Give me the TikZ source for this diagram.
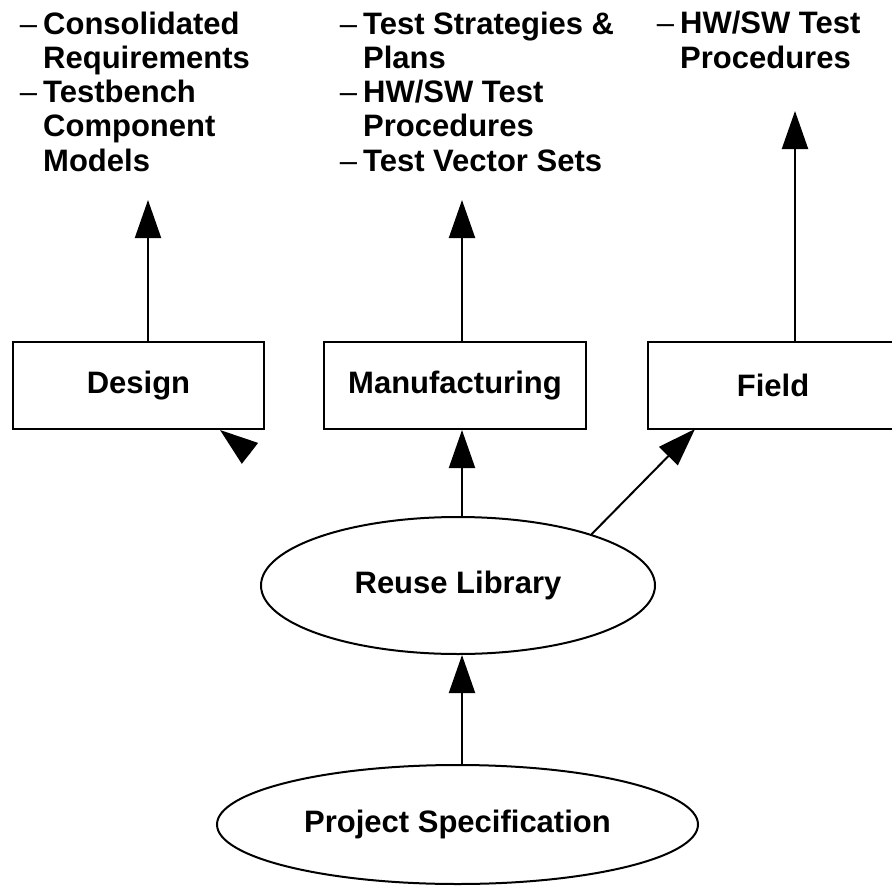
\documentclass[tikz,border=0pt]{standalone}
\usepackage{fontspec}
\setmainfont{Liberation Sans}
\usetikzlibrary{positioning, shapes.geometric, arrows.meta}

\begin{document}
\begin{tikzpicture}[x=1pt, y=-1pt,
	font=\fontsize{31}{34.2}\selectfont\bfseries,
	box/.style={draw, line width=2pt, minimum height=87pt, inner sep=0pt},
	blob/.style={draw, ellipse, line width=2pt, inner sep=0pt},
	items/.style={align=left, inner sep=0pt, anchor=base west},
	arr/.style={line width=2pt, -{Triangle[length=38pt, width=26pt]}}]
	\useasboundingbox (0,0) rectangle (892,886);
	\newcommand{\bul}{\llap{\textmd{\textendash}\hspace{6pt}}}
	% what each stage gets (placed by the last line)
	\node[items] (designout) at (43,171) {\bul Consolidated\\Requirements\\\bul Testbench\\Component\\Models};
	\node[items] (mfgout) at (363,171) {\bul Test Strategies \&\\Plans\\\bul HW/SW Test\\Procedures\\\bul Test Vector Sets};
	\node[items] (fieldout) at (680,68) {\bul HW/SW Test\\Procedures};
	% stages
	\node[box, minimum width=251pt] (design) at (138.5,385.5) {Design};
	\node[box, minimum width=262pt] (mfg) at (455,385.5) {Manufacturing};
	\node[box, minimum width=250pt] (field) at (773,385.5) {Field};
	\node[blob, minimum width=394pt, minimum height=137pt] (reuse) at (458,585.5) {Reuse Library};
	\node[blob, minimum width=481pt, minimum height=119pt] (spec) at (457.5,824.5) {Project Specification};
	\coordinate (designtip) at (148,200);
	\coordinate (mfgtip) at (462,200);
	\coordinate (fieldtip) at (795,111);
	\coordinate (mid) at (462,0);
	\coordinate (fieldin) at (695,429);
	\coordinate (stray) at (250,453.4);
	\coordinate (straytip) at (220,430);
	\draw[arr] (design.north -| designtip) -- (designtip);
	\draw[arr] (mfg.north -| mfgtip) -- (mfgtip);
	\draw[arr] (field.north -| fieldtip) -- (fieldtip);
	\draw[arr] (spec.north -| mid) -- (reuse.south -| mid);
	\draw[arr] (reuse.north -| mid) -- (mfg.south -| mid);
	\draw[arr] (reuse.21) -- (fieldin);
	\draw[arr] (stray) -- (straytip);
\end{tikzpicture}
\end{document}
